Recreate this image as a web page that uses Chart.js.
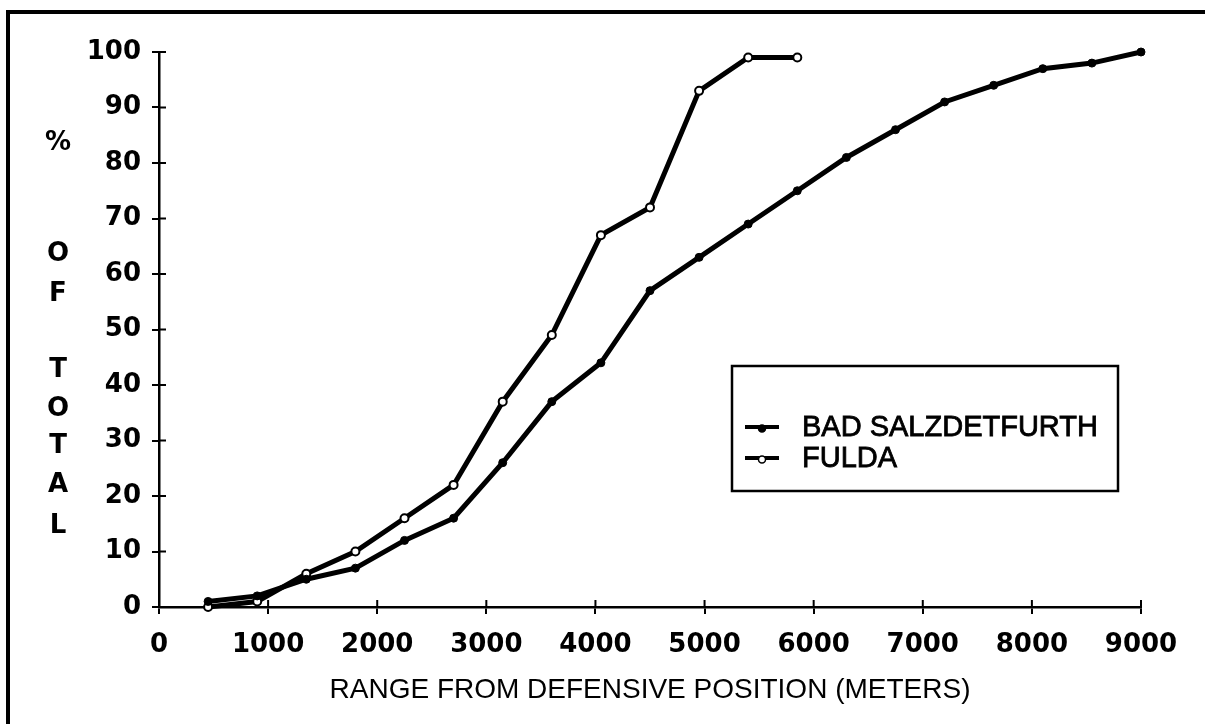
<!DOCTYPE html>
<html>
<head>
<meta charset="utf-8">
<title>Range from defensive position</title>
<script src="https://cdn.jsdelivr.net/npm/chart.js@4.4.1/dist/chart.umd.min.js"></script>
<style>
    html, body { margin: 0; padding: 0; background: #fff; }
    #wrap { position: relative; width: 1205px; height: 724px; overflow: hidden; }
    #frame { position: absolute; left: 6px; top: 10px; right: -10px; bottom: -10px;
             border-top: 4px solid #000; border-left: 4px solid #000; }
    #chart { position: absolute; left: 0; top: 0; }
</style>
</head>
<body>
<div id="wrap">
    <div id="frame"></div>
    <canvas id="chart" width="1205" height="724"></canvas>
</div>
<script>
// Dados
const RANGE_BAD = [450, 900, 1350, 1800, 2250, 2700, 3150, 3600, 4050, 4500, 4950, 5400, 5850, 6300, 6750, 7200, 7650, 8100, 8550, 9000];
const PCT_BAD = [1, 2, 5, 7, 12, 16, 26, 37, 44, 57, 63, 69, 75, 81, 86, 91, 94, 97, 98, 100];
const RANGE_FULDA = [450, 900, 1350, 1800, 2250, 2700, 3150, 3600, 4050, 4500, 4950, 5400, 5850];
const PCT_FULDA = [0, 1, 6, 10, 16, 22, 37, 49, 67, 72, 93, 99, 99];

const SERIES_NAMES = ['BAD SALZDETFURTH', 'FULDA'];
const X_TICKS = [0, 1000, 2000, 3000, 4000, 5000, 6000, 7000, 8000, 9000];
const Y_TICKS = [0, 10, 20, 30, 40, 50, 60, 70, 80, 90, 100];
const X_TITLE = 'RANGE FROM DEFENSIVE POSITION (METERS)';
const Y_TITLE = ['%', 'O', 'F', 'T', 'O', 'T', 'A', 'L'];

const INK = '#000';
const TICK_FONT = { family: '"DejaVu Sans", sans-serif', size: 26, weight: 'bold' };

function toPoints(xs, ys) {
    return xs.map((x, i) => ({ x: x, y: ys[i] }));
}

// Ticks cruzando os eixos (metade interna)
const innerTicks = {
    id: 'innerTicks',
    afterDatasetsDraw(chart) {
        const { ctx, chartArea, scales: { x, y } } = chart;
        ctx.save();
        ctx.strokeStyle = INK;
        ctx.lineWidth = 2;
        ctx.beginPath();
        y.ticks.forEach(t => {
            const py = y.getPixelForValue(t.value);
            ctx.moveTo(chartArea.left, py);
            ctx.lineTo(chartArea.left + 7, py);
        });
        x.ticks.forEach(t => {
            const px = x.getPixelForValue(t.value);
            ctx.moveTo(px, chartArea.bottom);
            ctx.lineTo(px, chartArea.bottom - 7);
        });
        ctx.stroke();
        ctx.restore();
    }
};

// Título vertical empilhado "% OF TOTAL"
const stackedTitle = {
    id: 'stackedTitle',
    afterDraw(chart) {
        const ctx = chart.ctx;
        const rows = [143, 254, 294, 370, 409, 446, 485, 526];
        ctx.save();
        ctx.fillStyle = INK;
        ctx.font = 'bold 26px "DejaVu Sans", sans-serif';
        ctx.textAlign = 'center';
        ctx.textBaseline = 'middle';
        Y_TITLE.forEach((ch, i) => ctx.fillText(ch, 58, rows[i]));
        ctx.restore();
    }
};

// Legenda em caixa dentro da área do gráfico
const boxLegend = {
    id: 'boxLegend',
    afterDraw(chart) {
        const ctx = chart.ctx;
        ctx.save();
        ctx.strokeStyle = INK;
        ctx.lineWidth = 2.5;
        ctx.strokeRect(732, 366, 386, 125);
        chart.data.datasets.forEach((ds, i) => {
            const y = 427 + i * 31;
            ctx.lineWidth = 4;
            ctx.beginPath();
            ctx.moveTo(745, y);
            ctx.lineTo(779, y);
            ctx.stroke();
            ctx.beginPath();
            ctx.arc(762, y + 1.5, 3.5, 0, Math.PI * 2);
            ctx.fillStyle = ds.pointBackgroundColor;
            ctx.fill();
            ctx.lineWidth = 1.5;
            ctx.stroke();
            ctx.fillStyle = INK;
            ctx.font = '29px "Liberation Sans", Arial, sans-serif';
            ctx.textBaseline = 'middle';
            ctx.textAlign = 'left';
            ctx.fillText(ds.label, 802, y + 1);
            ctx.strokeStyle = INK;
            ctx.lineWidth = 0.8;
            ctx.strokeText(ds.label, 802, y + 1);
        });
        ctx.restore();
    }
};

const ctx = document.getElementById('chart').getContext('2d');
const chart = new Chart(ctx, {
    type: 'line',
    data: {
        datasets: [
            {
                label: SERIES_NAMES[0],
                data: toPoints(RANGE_BAD, PCT_BAD),
                borderColor: INK,
                borderWidth: 5,
                pointRadius: 4,
                pointBackgroundColor: INK,
                pointBorderColor: INK,
                pointBorderWidth: 1,
                tension: 0,
                clip: 10
            },
            {
                label: SERIES_NAMES[1],
                data: toPoints(RANGE_FULDA, PCT_FULDA),
                borderColor: INK,
                borderWidth: 5,
                pointRadius: 4,
                pointBackgroundColor: '#fff',
                pointBorderColor: INK,
                pointBorderWidth: 2,
                tension: 0,
                clip: 10
            }
        ]
    },
    options: {
        responsive: false,
        animation: false,
        layout: { padding: { left: 0, right: 64, top: 52, bottom: 0 } },
        plugins: {
            legend: { display: false },
            tooltip: { enabled: false }
        },
        scales: {
            x: {
                type: 'linear',
                min: 0,
                max: 9000,
                afterBuildTicks: s => { s.ticks = X_TICKS.map(v => ({ value: v })); },
                afterFit: s => { s.height = 117; },
                grid: { drawOnChartArea: false, tickLength: 7, color: INK, lineWidth: 2 },
                border: { color: INK, width: 2.5 },
                ticks: {
                    color: INK, font: TICK_FONT, padding: 16, maxRotation: 0, autoSkip: false,
                    callback: v => String(v)
                },
                title: {
                    display: true,
                    text: X_TITLE,
                    color: INK,
                    font: { family: '"Liberation Sans", Arial, sans-serif', size: 28 },
                    padding: { top: 0, bottom: 17 }
                }
            },
            y: {
                min: 0,
                max: 100,
                afterBuildTicks: s => { s.ticks = Y_TICKS.map(v => ({ value: v })); },
                afterFit: s => { s.width = 159; },
                grid: { drawOnChartArea: false, tickLength: 7, color: INK, lineWidth: 2 },
                border: { color: INK, width: 2.5 },
                ticks: { color: INK, font: TICK_FONT, padding: 11, autoSkip: false, callback: v => String(v) }
            }
        }
    },
    plugins: [innerTicks, stackedTitle, boxLegend]
});
</script>
</body>
</html>
